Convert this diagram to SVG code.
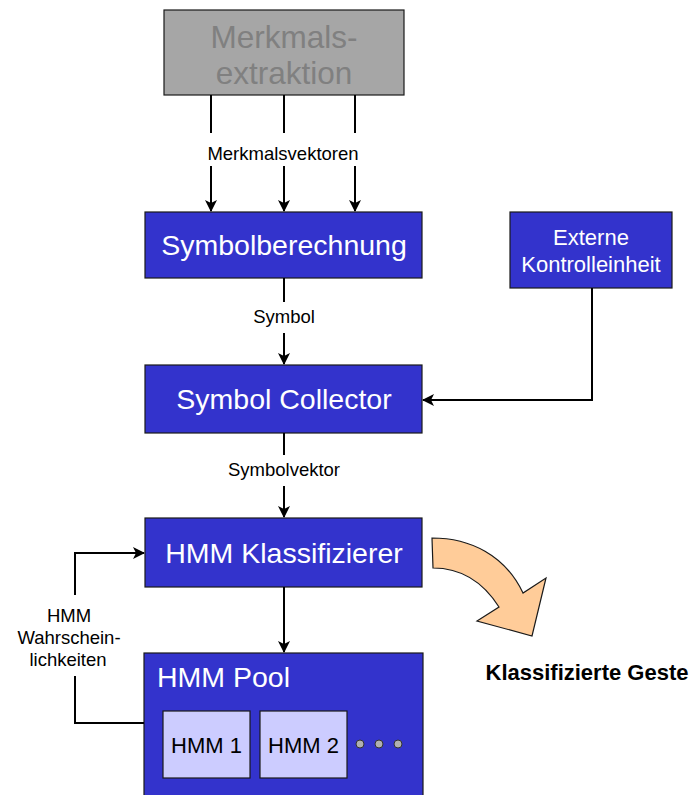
<svg xmlns="http://www.w3.org/2000/svg" width="694" height="795" viewBox="0 0 694 795">
<style>
text{font-family:"Liberation Sans",Arial,sans-serif;}
.blue{fill:#3333CC;stroke:#1a1a1a;stroke-width:1.2;}
.wt{fill:#ffffff;text-anchor:middle;}
.big{font-size:28.5px;}
.lbl{fill:#000;font-size:18.5px;text-anchor:middle;}
.ln{fill:none;stroke:#000;stroke-width:2;}
.hmm{fill:#CCCCFF;stroke:#1a1a1a;stroke-width:1.2;}
.dot{fill:#b0b0b0;stroke:#333;stroke-width:1;}
</style>
<defs>
<marker id="ah" markerWidth="12" markerHeight="12" refX="11" refY="6" orient="auto" markerUnits="userSpaceOnUse">
<path d="M0,0 L12,6 L0,12 L3,6 Z" fill="#000"/>
</marker>
</defs>
<rect width="694" height="795" fill="#fff"/>
<g id="merkmalsextraktion">
<rect x="164" y="10" width="240" height="85" fill="#A6A6A6" stroke="#1a1a1a" stroke-width="1.2"/>
<text x="284" y="48" font-size="31.5" fill="#808080" text-anchor="middle">Merkmals-</text>
<text x="284" y="84" font-size="31.5" fill="#808080" text-anchor="middle">extraktion</text>
</g>
<g id="symbolberechnung">
<rect class="blue" x="145" y="212" width="277" height="66"/>
<text class="wt big" x="284" y="255">Symbolberechnung</text>
</g>
<g id="externe">
<rect class="blue" x="510" y="212" width="162" height="76"/>
<text class="wt" x="591" y="245" font-size="22">Externe</text>
<text class="wt" x="591" y="272" font-size="22">Kontrolleinheit</text>
</g>
<g id="collector">
<rect class="blue" x="145" y="365" width="277" height="68"/>
<text class="wt big" x="284" y="409">Symbol Collector</text>
</g>
<g id="klassifizierer">
<rect class="blue" x="145" y="518" width="277" height="69"/>
<text class="wt big" x="284" y="563">HMM Klassifizierer</text>
</g>
<g id="pool">
<rect class="blue" x="144" y="653" width="279" height="150"/>
<text x="157" y="687" font-size="28.5" fill="#fff">HMM Pool</text>
<rect class="hmm" x="163" y="711" width="87" height="67"/>
<text x="206.5" y="753" font-size="22" text-anchor="middle" fill="#000">HMM 1</text>
<rect class="hmm" x="260" y="711" width="87" height="67"/>
<text x="303.5" y="753" font-size="22" text-anchor="middle" fill="#000">HMM 2</text>
<circle class="dot" cx="360" cy="744" r="4"/>
<circle class="dot" cx="379" cy="744" r="4"/>
<circle class="dot" cx="398" cy="744" r="4"/>
</g>
<g id="output">
<path d="M432,538 C470,538 505,555 523,593 L546,578 L532,636 L477,621 L499,607 C485,585 465,568 433,568 Z" fill="#FFCC99" stroke="#1a1a1a" stroke-width="1.2"/>
<text x="587" y="680" font-size="22" font-weight="bold" text-anchor="middle" fill="#000">Klassifizierte Geste</text>
</g>
<g id="connectors">
<line class="ln" x1="211" y1="95" x2="211" y2="133"/>
<line class="ln" x1="284" y1="95" x2="284" y2="133"/>
<line class="ln" x1="355" y1="95" x2="355" y2="133"/>
<line class="ln" x1="211" y1="166" x2="211" y2="211" marker-end="url(#ah)"/>
<line class="ln" x1="284" y1="166" x2="284" y2="211" marker-end="url(#ah)"/>
<line class="ln" x1="355" y1="166" x2="355" y2="211" marker-end="url(#ah)"/>
<text class="lbl" x="283" y="160">Merkmalsvektoren</text>
<line class="ln" x1="284" y1="278" x2="284" y2="302"/>
<line class="ln" x1="284" y1="333" x2="284" y2="364" marker-end="url(#ah)"/>
<text class="lbl" x="284" y="323">Symbol</text>
<line class="ln" x1="284" y1="433" x2="284" y2="455"/>
<line class="ln" x1="284" y1="486" x2="284" y2="517" marker-end="url(#ah)"/>
<text class="lbl" x="284" y="476">Symbolvektor</text>
<polyline class="ln" points="592,288 592,400 423,400" marker-end="url(#ah)"/>
<line class="ln" x1="284" y1="587" x2="284" y2="652" marker-end="url(#ah)"/>
<polyline class="ln" points="75,595 75,553 144,553" marker-end="url(#ah)"/>
<polyline class="ln" points="75,676 75,723 144,723"/>
<text class="lbl" x="69" y="622">HMM</text>
<text class="lbl" x="69" y="644">Wahrschein-</text>
<text class="lbl" x="68" y="666">lichkeiten</text>
</g>
</svg>
